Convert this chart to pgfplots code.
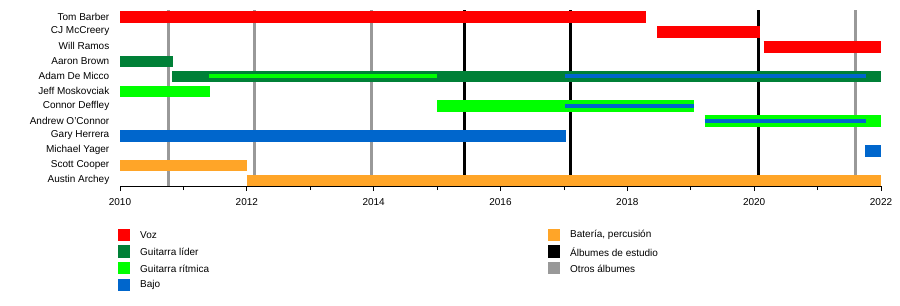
\documentclass[border=0pt]{standalone}
\usepackage{fontspec}
\setmainfont{Liberation Sans}
\usepackage{pgfplots}
\pgfplotsset{compat=1.18}

% role colours
\definecolor{voz}{RGB}{255,0,0}
\definecolor{lider}{RGB}{0,128,55}
\definecolor{ritmica}{RGB}{0,255,0}
\definecolor{bajo}{RGB}{0,102,204}
\definecolor{bateria}{RGB}{255,165,40}
\definecolor{estudio}{RGB}{0,0,0}
\definecolor{otros}{RGB}{153,153,153}

\newcommand{\lbl}{\fontsize{10bp}{12bp}\selectfont}

\begin{document}
\begin{tikzpicture}[font=\lbl]
\useasboundingbox (0,0) rectangle (900bp,-306bp);
\begin{axis}[
  at={(120bp,-186bp)}, anchor=south west,
  scale only axis, width=761bp, height=176.4bp,
  xmin=2010, xmax=2022, ymin=0.63, ymax=12.5,
  axis x line*=bottom, axis y line*=left,
  x axis line style={-, line width=0.8bp},
  y axis line style={draw=none},
  tick align=outside,
  major tick length=5bp, minor tick length=4bp,
  xtick={2010,2012,...,2022},
  minor xtick={2011,2013,...,2021},
  x tick style={black, line width=0.8bp},
  x tick label style={/pgf/number format/1000 sep={}, yshift=-3.5bp},
  /pgf/number format/assume math mode=true,
  ytick={1,...,12},
  yticklabels={Austin Archey, Scott Cooper, Michael Yager, Gary Herrera,
    Andrew O'Connor, Connor Deffley, Jeff Moskovciak, Adam De Micco,
    Aaron Brown, Will Ramos, CJ McCreery, Tom Barber},
  y tick style={draw=none},
  y tick label style={anchor=east, inner sep=0pt, xshift=-5.5bp, yshift=0.6bp},
  tick label style={font=\lbl},
  clip=false,
]
% album release lines (behind the bars)
\addplot[otros, line width=3bp] coordinates {(2010.76,0.63) (2010.76,12.47)};
\addplot[otros, line width=3bp] coordinates {(2012.12,0.63) (2012.12,12.47)};
\addplot[otros, line width=3bp] coordinates {(2013.96,0.63) (2013.96,12.47)};
\addplot[otros, line width=3bp] coordinates {(2021.60,0.63) (2021.60,12.47)};
\addplot[estudio, line width=3bp] coordinates {(2015.43,0.63) (2015.43,12.47)};
\addplot[estudio, line width=3bp] coordinates {(2017.11,0.63) (2017.11,12.47)};
\addplot[estudio, line width=3bp] coordinates {(2020.07,0.63) (2020.07,12.47)};

% member bars
\pgfplotsset{bar/.style={line width=11.5bp}, inner/.style={line width=4bp}}
\addplot[voz, bar] coordinates {(2010,12) (2018.30,12)};
\addplot[voz, bar] coordinates {(2018.47,11) (2020.09,11)};
\addplot[voz, bar] coordinates {(2020.15,10) (2022,10)};
\addplot[lider, bar] coordinates {(2010,9) (2010.84,9)};
\addplot[lider, bar] coordinates {(2010.82,8) (2022,8)};
\addplot[ritmica, inner] coordinates {(2011.40,8) (2015.00,8)};
\addplot[bajo, inner] coordinates {(2017.02,8) (2021.76,8)};
\addplot[ritmica, bar] coordinates {(2010,7) (2011.42,7)};
\addplot[ritmica, bar] coordinates {(2015.00,6) (2019.05,6)};
\addplot[bajo, inner] coordinates {(2017.02,6) (2019.05,6)};
\addplot[ritmica, bar] coordinates {(2019.22,5) (2022,5)};
\addplot[bajo, inner] coordinates {(2019.22,5) (2021.76,5)};
\addplot[bajo, bar] coordinates {(2010,4) (2017.03,4)};
\addplot[bajo, bar] coordinates {(2021.75,3) (2022,3)};
\addplot[bateria, bar] coordinates {(2010,2) (2012.00,2)};
\addplot[bateria, bar] coordinates {(2012.00,1) (2022,1)};
\end{axis}

% legend
\foreach \c/\t [count=\i from 0] in {voz/Voz, lider/Guitarra líder, ritmica/Guitarra rítmica, bajo/Bajo}{
  \fill[\c] (118.3bp,{-228.7bp-16.7bp*\i}) rectangle ++(11.7bp,-12.3bp);
  \node[anchor=west, inner sep=0pt] at (140bp,{-235.3bp-16.7bp*\i}) {\t};
}
\foreach \c/\t [count=\i from 0] in {bateria/{Batería, percusión}, estudio/Álbumes de estudio, otros/Otros álbumes}{
  \fill[\c] (548.3bp,{-228.7bp-16.7bp*\i}) rectangle ++(11.7bp,-12.3bp);
  \node[anchor=west, inner sep=0pt] at (570bp,{-235.3bp-16.7bp*\i}) {\t};
}
\end{tikzpicture}
\end{document}
